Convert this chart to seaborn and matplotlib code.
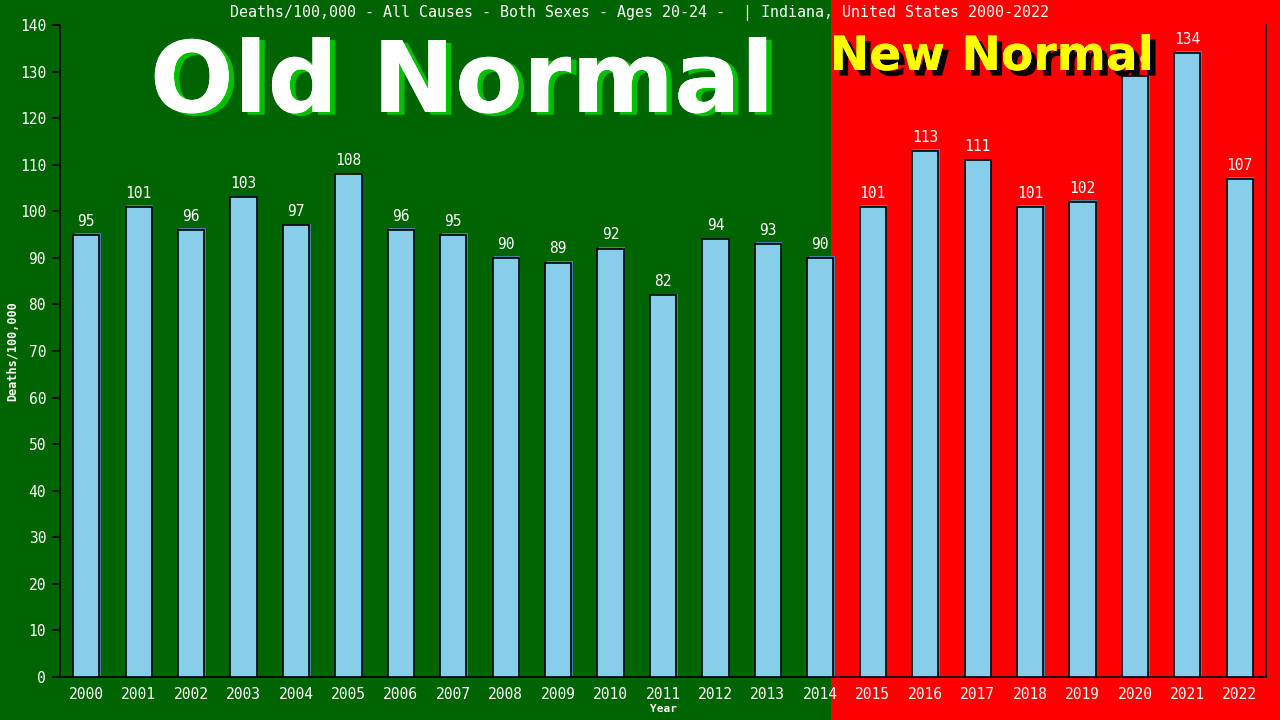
import numpy as np
import pandas as pd
import seaborn as sns
import matplotlib.pyplot as plt
from matplotlib.patches import Rectangle
from matplotlib import transforms
import matplotlib.patheffects as pe

years = [str(y) for y in range(2000, 2023)]
deaths = [95, 101, 96, 103, 97, 108, 96, 95, 90, 89, 92, 82, 94, 93, 90,
          101, 113, 111, 101, 102, 129, 134, 107]
split_at = 14.2  # where the "new normal" red zone begins (category units)

df = pd.DataFrame({"Year": years, "Deaths": deaths})

sns.set_style("white")
plt.rcParams['font.family'] = ['DejaVu Sans Mono', 'DejaVu Sans']

fig = plt.figure(figsize=(12.8, 7.2), dpi=100, facecolor='#006400')
ax = fig.add_axes([60 / 1280, 43 / 720, 1206 / 1280, 652 / 720])
ax.set_facecolor('none')

sns.barplot(x="Year", y="Deaths", data=df, color='#87CEEB', edgecolor='black',
            linewidth=1.2, width=0.5, saturation=1, ax=ax, zorder=3)
ax.set_xlim(-0.5, 22.5)
ax.set_ylim(0, 140)
ax.set_yticks(range(0, 141, 10))

# bar shadows, offset a little up and right
for p in list(ax.patches):
    off = transforms.offset_copy(ax.transData, fig=fig, x=1.5, y=1.5, units='dots')
    ax.add_patch(Rectangle(p.get_xy(), p.get_width(), p.get_height(),
                           transform=off, facecolor='#4a7fa8', edgecolor='none', zorder=2))

for i, v in enumerate(deaths):
    ax.text(i, v + 1.3, str(v), ha='center', va='bottom', color='white',
            fontsize=10.5, zorder=5)

# red zone across the whole figure height
fig.canvas.draw()
xs = fig.transFigure.inverted().transform(ax.transData.transform((split_at, 0)))[0]
fig.patches.append(Rectangle((xs, -0.01), 1.02 - xs, 1.02, transform=fig.transFigure,
                             facecolor='#FF0000', edgecolor='none',
                             antialiased=False, zorder=-10))

for s in ['left', 'bottom', 'right']:
    ax.spines[s].set_color('black')
    ax.spines[s].set_linewidth(1.2)
ax.spines['top'].set_visible(False)
ax.tick_params(axis='y', left=True, length=6, width=1.2, color='black',
               labelcolor='white', labelsize=10.5, pad=4)
ax.tick_params(axis='x', bottom=False, labelcolor='white', labelsize=10.5, pad=4)

ax.set_ylabel('Deaths/100,000', color='white', fontsize=8.5, fontweight='bold')
ax.set_xlabel('Year', color='white', fontsize=8, fontweight='bold')
ax.yaxis.set_label_coords(-47 / 1206, 0.5)
ax.xaxis.set_label_coords(0.5, -32 / 652)
ax.xaxis.label.set_va('center')
ax.yaxis.label.set_va('center')

fig.text(0.5, 1 - 13 / 720, 'Deaths/100,000 - All Causes - Both Sexes - Ages 20-24 -  | Indiana, United States 2000-2022',
         ha='center', va='center', color='white', fontsize=10.8)

fig.text(462 / 1280, 1 - 112 / 720, 'Old Normal', ha='center', va='baseline',
         color='white', fontsize=71, fontweight='bold', family='DejaVu Sans',
         path_effects=[pe.withSimplePatchShadow(offset=(4, -2), shadow_rgbFace='#00c000', alpha=1),
                       pe.Normal()])
fig.text(992 / 1280, 1 - 70 / 720, 'New Normal', ha='center', va='baseline',
         color='#FFFF00', fontsize=34, fontweight='bold', family='DejaVu Sans',
         path_effects=[pe.withSimplePatchShadow(offset=(4, -4), shadow_rgbFace='black', alpha=1),
                       pe.Normal()])

fig.savefig('out.png', dpi=100, facecolor=fig.get_facecolor())
